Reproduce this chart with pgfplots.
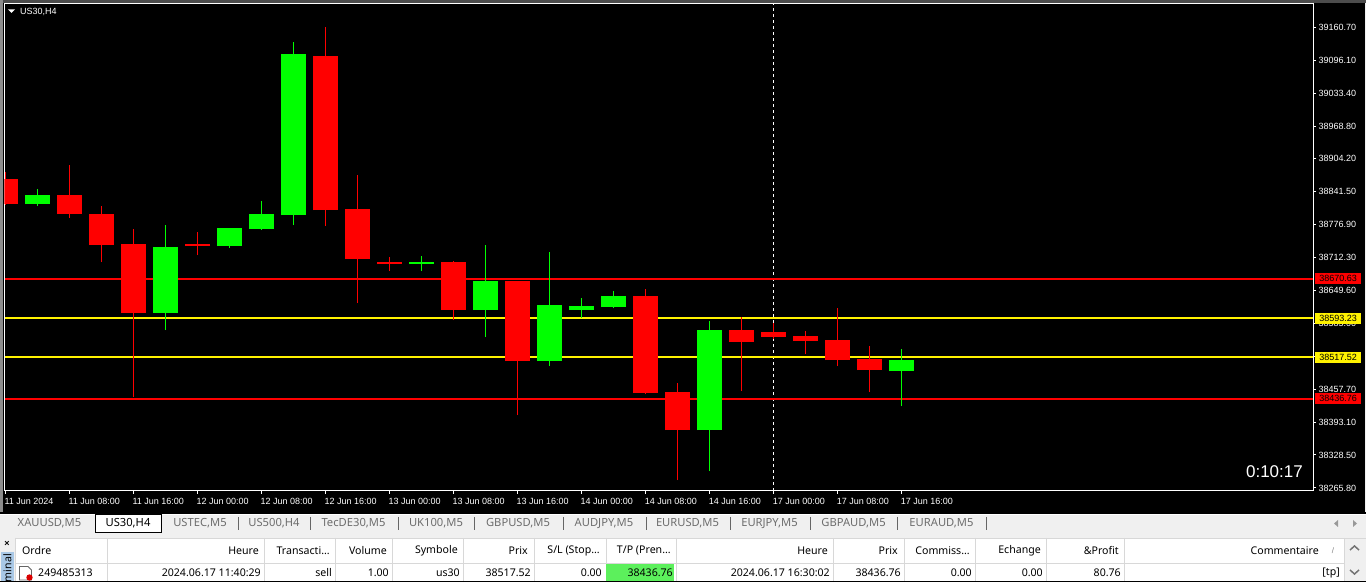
\documentclass[border=0pt]{standalone}
\usepackage{fontspec}
\setmainfont{Liberation Sans}
\newfontfamily\ui{Noto Sans}
\usepackage{pgfplots}
\usepackage{pgfplotstable}
\pgfplotsset{compat=1.18}

\definecolor{barbg}{HTML}{F0F0F0}
\definecolor{tabtxt}{HTML}{6D6D6D}
\definecolor{gridln}{HTML}{D8D8D8}
\definecolor{tpgreen}{HTML}{5CF05C}
\definecolor{termblue}{HTML}{A9C8E6}
\definecolor{upgreen}{HTML}{00FF00}

% i, low, body low, body high, high
\pgfplotstableread{
i low blow bhigh high
0 38813.51 38815.45 38864.08 38877.69
2 38788.22 38796.00 38832.96 38891.31
3 38702.64 38735.71 38796.00 38811.56
4 38440.07 38603.45 38737.65 38766.83
6 38716.26 38733.76 38737.65 38760.99
10 38772.66 38803.78 39103.31 39159.72
11 38622.90 38708.48 38805.73 38871.86
12 38685.14 38698.75 38702.64 38712.37
14 38589.83 38609.28 38702.64 38704.59
16 38405.06 38510.09 38665.69 38665.69
20 38445.90 38447.85 38636.51 38650.13
21 38278.63 38375.88 38449.79 38467.30
23 38451.74 38547.04 38570.38 38595.67
24 38552.88 38556.77 38566.49 38584.00
25 38523.70 38548.99 38558.71 38568.44
26 38500.36 38512.03 38550.93 38613.17
27 38449.79 38492.58 38513.98 38539.26
}\bearish
\pgfplotstableread{
i low blow bhigh high
1 38811.56 38815.45 38832.96 38844.63
5 38570.38 38603.45 38731.82 38774.61
7 38729.87 38733.76 38768.77 38768.77
8 38764.88 38766.83 38796.00 38821.29
9 38774.61 38794.06 39107.20 39130.54
13 38685.14 38698.75 38702.64 38714.31
15 38556.77 38609.28 38665.69 38735.71
17 38500.36 38510.09 38619.01 38722.09
18 38593.72 38609.28 38617.06 38632.62
19 38613.17 38615.12 38636.51 38646.24
22 38296.14 38375.88 38570.38 38587.89
28 38422.56 38490.64 38512.03 38533.43
}\bullish

\pgfplotsset{
  wick/.style={draw=none, no markers, forget plot, error bars/.cd, y dir=plus, y explicit, error mark=none,
    error bar style={line width=1pt, color=#1}},
  body/.style={draw=none, no markers, forget plot, error bars/.cd, y dir=plus, y explicit, error mark=none,
    error bar style={line width=25pt, color=#1}},
}

\newcommand{\hd}[2]{\node[anchor=east, inner sep=0pt, text=black] at (#1,551) {\ui\fontsize{10.6}{12}\selectfont #2};}
\newcommand{\rw}[2]{\node[anchor=east, inner sep=0pt, text=black] at (#1,572.5) {\ui\fontsize{10.6}{12}\selectfont #2};}
\newcommand{\tb}[2]{\node[inner sep=0pt, text=tabtxt] at (#1,523.5) {\ui\fontsize{11.2}{12}\selectfont #2};}

\begin{document}
\begin{tikzpicture}
\path[use as bounding box] (0,0) rectangle (1366pt,583pt);
\begin{scope}[x=1pt,y=-1pt,yshift=583pt]
\fill[barbg] (0,0) rectangle (1366,583);
\fill[black!70] (0,0) rectangle (1366,3);
\fill[black!45] (0,0) rectangle (3,512);
\fill[black] (3,3) rectangle (1365,512);
\end{scope}

\begin{axis}[
    at={(4.5pt,92pt)}, anchor=south west,
    scale only axis, width=1308.5pt, height=487.5pt,
    xmin=-0.026, xmax=40.85,
    ymin=38257.24, ymax=39205.81,
    clip mode=individual,
    axis background/.style={fill=black},
    axis line style={white, line width=1pt},
    tick style={white, line width=1pt},
    tick align=outside, major tick length=3pt,
    xtick pos=bottom, ytick pos=right,
    xtick={0,2,...,28},
    xticklabels={11 Jun 2024,11 Jun 08:00,11 Jun 16:00,12 Jun 00:00,12 Jun 08:00,12 Jun 16:00,13 Jun 00:00,13 Jun 08:00,13 Jun 16:00,14 Jun 00:00,14 Jun 08:00,14 Jun 16:00,17 Jun 00:00,17 Jun 08:00,17 Jun 16:00},
    ytick={39159.7,39095.5,39031.3,38967.1,38903.6,38839.6,38775.4,38711.4,38647.4,38583.2,38519.2,38455.2,38391.3,38327.3,38263.1},
    yticklabels={39160.70,39096.10,39033.40,38968.80,38904.20,38841.50,38776.90,38712.30,38649.60,38585.00,38520.40,38457.70,38393.10,38328.50,38265.80},
    tick label style={white, font=\fontsize{9}{10}\selectfont, inner sep=0pt},
    xticklabel style={anchor=north west, xshift=-1pt, yshift=-4pt},
    yticklabel style={anchor=west, xshift=2.5pt},
]
% period separator
\addplot[white, line width=1pt, dash pattern=on 3pt off 3pt, forget plot] coordinates {(24,38257.24) (24,39205.81)};
% order lines
\addplot[red, line width=2pt, forget plot] coordinates {(0,38670.63) (40.85,38670.63)};
\addplot[yellow, line width=2pt, forget plot] coordinates {(0,38593.23) (40.85,38593.23)};
\addplot[yellow, line width=2pt, forget plot] coordinates {(0,38517.52) (40.85,38517.52)};
\addplot[red, line width=2pt, forget plot] coordinates {(0,38436.76) (40.85,38436.76)};
% candles
\addplot[wick=red] table[x=i, y=low, y error expr=\thisrow{high}-\thisrow{low}] {\bearish};
\addplot[body=red] table[x=i, y=blow, y error expr=\thisrow{bhigh}-\thisrow{blow}] {\bearish};
\addplot[wick=upgreen] table[x=i, y=low, y error expr=\thisrow{high}-\thisrow{low}] {\bullish};
\addplot[body=upgreen] table[x=i, y=blow, y error expr=\thisrow{bhigh}-\thisrow{blow}] {\bullish};
% price tags
\node[fill=red, text=black, inner sep=0pt, minimum width=46pt, minimum height=11pt, anchor=west, font=\fontsize{9}{10}\selectfont, xshift=2pt] at (axis cs:40.85,38670.63) {38670.63};
\node[fill=yellow, text=black, inner sep=0pt, minimum width=46pt, minimum height=11pt, anchor=west, font=\fontsize{9}{10}\selectfont, xshift=2pt] at (axis cs:40.85,38593.23) {38593.23};
\node[fill=yellow, text=black, inner sep=0pt, minimum width=46pt, minimum height=11pt, anchor=west, font=\fontsize{9}{10}\selectfont, xshift=2pt] at (axis cs:40.85,38517.52) {38517.52};
\node[fill=red, text=black, inner sep=0pt, minimum width=46pt, minimum height=11pt, anchor=west, font=\fontsize{9}{10}\selectfont, xshift=2pt] at (axis cs:40.85,38436.76) {38436.76};
\end{axis}

\begin{scope}[x=1pt,y=-1pt,yshift=583pt]
% chart caption and countdown
\fill[white] (8,9.5) -- (15,9.5) -- (11.5,13) -- cycle;
\node[anchor=west, inner sep=0pt, text=white, font=\fontsize{9}{10}\selectfont] at (20,11.5) {US30,H4};
\node[anchor=east, inner sep=0pt, text=white, font=\fontsize{17}{18}\selectfont] at (1303,472) {0:10:17};

% tab strip
\fill[black] (0,512.5) rectangle (1366,514);
\draw[white, line width=1pt] (0,514.5) -- (1366,514.5);
\fill[white] (95,514) rectangle (161.5,533);
\draw[black, line width=1pt] (95,533) -- (95,515) -- (161.5,515) (161.5,515) -- (161.5,533) -- (95,533);
\tb{49.5}{XAUUSD,M5}
\node[inner sep=0pt, text=black] at (128,523.5) {\ui\fontsize{11.2}{12}\selectfont US30,H4};
\tb{200}{USTEC,M5}
\tb{274}{US500,H4}
\tb{353.5}{TecDE30,M5}
\tb{436}{UK100,M5}
\tb{518}{GBPUSD,M5}
\tb{604}{AUDJPY,M5}
\tb{687.5}{EURUSD,M5}
\tb{769.5}{EURJPY,M5}
\tb{853.5}{GBPAUD,M5}
\tb{941.5}{EURAUD,M5}
\foreach \x in {238,310,398,474,563,646,730,810,897,986} \draw[black!60, line width=1pt] (\x,517) -- (\x,530);
\fill[black!40] (1338,520) -- (1338,527) -- (1334,523.5) -- cycle;
\fill[black!40] (1353,520) -- (1353,527) -- (1357,523.5) -- cycle;

% terminal table
\fill[white] (15,538) rectangle (1344,581);
\fill[barbg] (1344,538) rectangle (1366,581);
\draw[gridln, line width=1pt] (15,538.5) -- (1366,538.5);
\draw[gridln, line width=1pt] (15,563.5) -- (1344,563.5);
\draw[gridln, line width=1pt] (15.5,538) -- (15.5,581);
\foreach \x in {107,264,335,392,463,534,606,676,833,904,975,1046,1124,1344} \draw[gridln, line width=1pt] (\x,538) -- (\x,581);
\fill[tpgreen] (606,564) rectangle (674,581);
\fill[black] (0,581) rectangle (1366,582);
\fill[white] (0,582) rectangle (1366,583);
\node[inner sep=0pt, font=\bfseries\fontsize{9}{10}\selectfont] at (7,543.5) {×};
\fill[termblue] (1,552) rectangle (14,581);
\node[rotate=90, anchor=east, inner sep=0pt, text=black] at (7.5,554) {\ui\fontsize{10.6}{12}\selectfont minal};

\node[anchor=west, inner sep=0pt, text=black] at (22,551) {\ui\fontsize{10.6}{12}\selectfont Ordre};
\hd{259}{Heure}
\hd{330}{Transacti...}
\hd{387}{Volume}
\hd{458}{Symbole}
\hd{528}{Prix}
\hd{600}{S/L (Stop...}
\hd{671}{T/P (Pren...}
\hd{828}{Heure}
\hd{898}{Prix}
\hd{970}{Commiss...}
\hd{1041}{Echange}
\hd{1119}{\&Profit}
\hd{1319}{Commentaire}
\node[inner sep=0pt, text=black!50] at (1333,551) {\fontsize{8}{9}\selectfont /};

% order icon
\draw[black!60, fill=white, line width=.8pt] (19.5,566.5) -- (28,566.5) -- (31.5,570) -- (31.5,580) -- (19.5,580) -- cycle;
\fill[red!85!black] (29.5,577.5) circle (3.2pt);
\node[anchor=west, inner sep=0pt, text=black] at (38,572.5) {\ui\fontsize{10.6}{12}\selectfont 249485313};
\rw{261}{2024.06.17 11:40:29}
\rw{332}{sell}
\rw{389}{1.00}
\rw{460}{us30}
\rw{531}{38517.52}
\rw{602}{0.00}
\rw{673}{38436.76}
\rw{830}{2024.06.17 16:30:02}
\rw{901}{38436.76}
\rw{972}{0.00}
\rw{1043}{0.00}
\rw{1121}{80.76}
\rw{1340}{[tp]}

% scroll arrows
\draw[black!55, line width=1.5pt] (1350,550) -- (1354.5,546) -- (1359,550);
\draw[black!55, line width=1.5pt] (1350,570) -- (1354.5,574) -- (1359,570);
\end{scope}
\end{tikzpicture}
\end{document}
